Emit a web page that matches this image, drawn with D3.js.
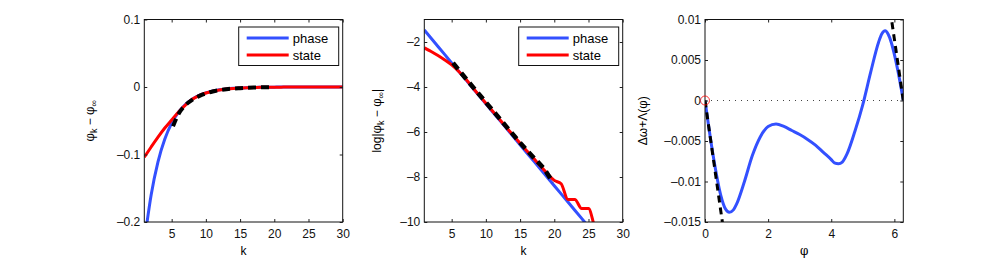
<!DOCTYPE html>
<html>
<head>
<meta charset="utf-8">
<script src="https://cdn.jsdelivr.net/npm/d3@7"></script>
<style>
  body { margin: 0; background: #fff; }
  text { font-family: "Liberation Sans", Arial, sans-serif; }
</style>
</head>
<body>
<svg id="svg1" width="997" height="260"></svg>
<script>
// ---- data ----
var kValues = d3.range(1, 31);

// panel 1: phi_k - phi_inf
var phaseDiff = [-0.230, -0.160, -0.111, -0.0772, -0.0536, -0.0373, -0.0259, -0.0180, -0.0125, -0.0087,
                 -0.0060, -0.0042, -0.0029, -0.0020, -0.0014, -0.0010, -0.0007, -0.0005, -0.0003, -0.0002,
                 -0.0001, -0.0001, 0, 0, 0, 0, 0, 0, 0, 0];
var stateDiff = [-0.104, -0.0889, -0.0743, -0.0608, -0.0488, -0.0369, -0.0268, -0.0183, -0.0128, -0.0089,
                 -0.0062, -0.0043, -0.0030, -0.0021, -0.0015, -0.0011, -0.0008, -0.0005, -0.0004, -0.0003,
                 -0.0002, -0.0001, -0.0001, 0, 0, 0, 0, 0, 0, 0];
var fitK1 = [5.2, 6, 7, 8, 9, 11, 13, 15, 17, 19.5];
var fitDiff = [-0.058, -0.040, -0.027, -0.019, -0.0135, -0.0067, -0.0033, -0.0017, -0.0008, -0.0003];

// panel 2: log|phi_k - phi_inf|
var phaseLog = [-1.47, -1.83, -2.20, -2.56, -2.93, -3.29, -3.65, -4.02, -4.38, -4.75,
                -5.11, -5.47, -5.84, -6.20, -6.57, -6.93, -7.29, -7.66, -8.02, -8.39,
                -8.75, -9.11, -9.48, -9.84, -10.21, -10.57, -10.93, -11.30, -11.66, -12.03];
var stateLog = [-2.26, -2.42, -2.60, -2.80, -3.02, -3.30, -3.62, -4.00, -4.36, -4.72,
                -5.08, -5.44, -5.80, -6.15, -6.50, -6.84, -7.18, -7.52, -7.85, -8.15,
                -8.30, -9.00, -9.00, -9.40, -9.40, -10.30, -10.60, -10.90, -11.20, -11.50];
var fitK2 = [5.2, 7, 9, 11, 13, 15, 17, 18.5, 19.8];
var fitLog = [-2.93, -3.60, -4.32, -5.04, -5.76, -6.48, -7.14, -7.62, -8.25];

// panel 3: delta omega + Lambda(phi)
var phiValues = [0, 0.25, 0.5, 0.65, 0.77, 0.9, 1.0, 1.25, 1.5, 1.75, 2.0, 2.25, 2.5, 2.75, 3.0, 3.25, 3.5,
                 3.75, 4.0, 4.1, 4.23, 4.35, 4.5, 4.75, 5.0, 5.25, 5.5, 5.6, 5.71, 5.8, 5.9, 6.0, 6.1, 6.283];
var lambdaValues = [0, -0.0066, -0.0117, -0.0134, -0.0138, -0.0135, -0.0128, -0.0100, -0.0068, -0.0045,
                    -0.0032, -0.0029, -0.0032, -0.0037, -0.0042, -0.0048, -0.0055, -0.0064, -0.0073, -0.0077,
                    -0.0078, -0.0076, -0.0066, -0.0038, -0.0005, 0.0035, 0.0072, 0.0082, 0.0086, 0.0082,
                    0.0072, 0.0057, 0.0039, 0];
var tangentPhi = [[0, 0.62], [6.283, 5.85]];
var tangentVal = [[0, -0.0169], [0, 0.0116]];

var legendLabels = ['phase', 'state'];
var blue = '#3350ff', red = '#ff0000';

var svg = d3.select('#svg1');
var plotTop = 19.5, plotBottom = 222;

function drawPanel(opt) {
    var g = svg.append('g');
    var x = d3.scaleLinear().domain(opt.xDomain).range([opt.left, opt.right]);
    var y = d3.scaleLinear().domain(opt.yDomain).range([plotBottom, plotTop]);
    var clipId = 'clip' + opt.id;
    svg.append('clipPath').attr('id', clipId).append('rect')
        .attr('x', opt.left).attr('y', plotTop)
        .attr('width', opt.right - opt.left).attr('height', plotBottom - plotTop);

    var plot = g.append('g').attr('clip-path', 'url(#' + clipId + ')');
    opt.series.forEach(function(s) {
        var line = d3.line()
            .x(function(d) { return x(d[0]); })
            .y(function(d) { return y(d[1]); })
            .curve(s.curve || d3.curveLinear);
        plot.append('path')
            .datum(d3.zip(s.x, s.y))
            .attr('d', line)
            .attr('fill', 'none')
            .attr('stroke', s.color)
            .attr('stroke-width', s.width)
            .attr('stroke-dasharray', s.dash || null)
            .attr('stroke-linejoin', 'round');
    });
    if (opt.extra) opt.extra(plot, x, y);

    // axes, ticks inward on all four sides
    var fmt = function(d) { return d3.format('')(d).replace('-', '\u2013').replace('\u2212', '\u2013'); };
    g.append('g').attr('transform', 'translate(0,' + plotBottom + ')')
        .call(d3.axisBottom(x).tickValues(opt.xTicks).tickSizeInner(-3).tickSizeOuter(0).tickPadding(7).tickFormat(fmt));
    g.append('g').attr('transform', 'translate(0,' + plotTop + ')')
        .call(d3.axisTop(x).tickValues(opt.xTicks).tickSizeInner(-3).tickSizeOuter(0).tickFormat(''));
    g.append('g').attr('transform', 'translate(' + opt.left + ',0)')
        .call(d3.axisLeft(y).tickValues(opt.yTicks).tickSizeInner(-3).tickSizeOuter(0).tickPadding(4).tickFormat(fmt));
    g.append('g').attr('transform', 'translate(' + opt.right + ',0)')
        .call(d3.axisRight(y).tickValues(opt.yTicks).tickSizeInner(-3).tickSizeOuter(0).tickFormat(''));
    g.selectAll('.domain').remove();
    g.selectAll('.tick line').attr('stroke', '#222');
    g.selectAll('.tick text').attr('font-size', 12).attr('fill', '#111')
        .style('font-family', '"Liberation Sans", Arial, sans-serif');

    g.append('rect').attr('x', opt.left).attr('y', plotTop)
        .attr('width', opt.right - opt.left).attr('height', plotBottom - plotTop)
        .attr('fill', 'none').attr('stroke', '#111').attr('stroke-width', 1);

    // x label
    var xl = g.append('text')
        .attr('x', (opt.left + opt.right) / 2).attr('y', 255)
        .attr('text-anchor', 'middle').attr('font-size', 12);
    opt.xLabel(xl);

    // y label
    var yl = g.append('text')
        .attr('transform', 'translate(' + opt.yLabelX + ',' + (plotTop + plotBottom) / 2 + ') rotate(-90)')
        .attr('text-anchor', 'middle').attr('font-size', 12);
    opt.yLabel(yl);

    if (opt.legend) {
        var lx = opt.right - 104, ly = 27;
        var lg = g.append('g');
        lg.append('rect').attr('x', lx).attr('y', ly).attr('width', 100).attr('height', 38.5)
            .attr('fill', '#fff').attr('stroke', '#111').attr('stroke-width', 1);
        [blue, red].forEach(function(c, i) {
            var yy = ly + 11 + i * 17;
            lg.append('line').attr('x1', lx + 8).attr('x2', lx + 50)
                .attr('y1', yy).attr('y2', yy)
                .attr('stroke', c).attr('stroke-width', 3);
            lg.append('text').attr('x', lx + 54).attr('y', yy + 4.5)
                .attr('font-size', 13).text(legendLabels[i]);
        });
    }
}

function subLabel(sel, parts) {
    parts.forEach(function(p) {
        var t = sel.append('tspan').text(p.t);
        if (p.sub) t.attr('font-size', 9).attr('baseline-shift', '-30%');
        if (p.font) t.style('font-family', p.font);
    });
}

var sym = '"DejaVu Serif", serif';

drawPanel({
    id: 1, left: 144.3, right: 342.7,
    xDomain: [1, 30], yDomain: [-0.2, 0.1],
    xTicks: [5, 10, 15, 20, 25, 30], yTicks: [-0.2, -0.1, 0, 0.1],
    series: [
        { x: kValues, y: phaseDiff, color: blue, width: 3, curve: d3.curveMonotoneX },
        { x: kValues, y: stateDiff, color: red, width: 3, curve: d3.curveMonotoneX },
        { x: fitK1, y: fitDiff, color: '#000', width: 4, dash: '8,5', curve: d3.curveMonotoneX }
    ],
    legend: true,
    yLabelX: 94,
    xLabel: function(t) { t.text('k'); },
    yLabel: function(t) {
        subLabel(t, [{ t: '\u03c6', font: sym }, { t: 'k', sub: true }, { t: ' \u2212 ' },
                     { t: '\u03c6', font: sym }, { t: '\u221e', sub: true }]);
    }
});

drawPanel({
    id: 2, left: 424.3, right: 622.7,
    xDomain: [1, 30], yDomain: [-10, -1],
    xTicks: [5, 10, 15, 20, 25, 30], yTicks: [-10, -8, -6, -4, -2],
    series: [
        { x: kValues, y: phaseLog, color: blue, width: 3 },
        { x: kValues, y: stateLog, color: red, width: 3, curve: d3.curveMonotoneX },
        { x: fitK2, y: fitLog, color: '#000', width: 4.5, dash: '8,5' }
    ],
    legend: true,
    yLabelX: 381,
    xLabel: function(t) { t.text('k'); },
    yLabel: function(t) {
        subLabel(t, [{ t: 'log|' }, { t: '\u03c6', font: sym }, { t: 'k', sub: true }, { t: ' \u2212 ' },
                     { t: '\u03c6', font: sym }, { t: '\u221e', sub: true }, { t: '|' }]);
    }
});

drawPanel({
    id: 3, left: 705, right: 903.3,
    xDomain: [0, 6.283], yDomain: [-0.015, 0.01],
    xTicks: [0, 2, 4, 6], yTicks: [-0.015, -0.01, -0.005, 0, 0.005, 0.01],
    series: [
        { x: phiValues, y: lambdaValues, color: blue, width: 3, curve: d3.curveMonotoneX },
        { x: tangentPhi[0], y: tangentVal[0], color: '#000', width: 3, dash: '7,5' },
        { x: tangentPhi[1], y: tangentVal[1], color: '#000', width: 3, dash: '7,5' }
    ],
    extra: function(plot, x, y) {
        plot.append('line')
            .attr('x1', x(0)).attr('x2', x(6.283))
            .attr('y1', y(0)).attr('y2', y(0))
            .attr('stroke', '#444').attr('stroke-width', 1).attr('stroke-dasharray', '1,5');
        svg.append('circle').attr('cx', x(0)).attr('cy', y(0)).attr('r', 4.5)
            .attr('fill', 'none').attr('stroke', red).attr('stroke-width', 0.8);
    },
    yLabelX: 647,
    xLabel: function(t) { t.append('tspan').style('font-family', sym).text('\u03c6'); },
    yLabel: function(t) {
        subLabel(t, [{ t: '\u0394\u03c9+\u039b(' }, { t: '\u03c6', font: sym }, { t: ')' }]);
    }
});
</script>
</body>
</html>
